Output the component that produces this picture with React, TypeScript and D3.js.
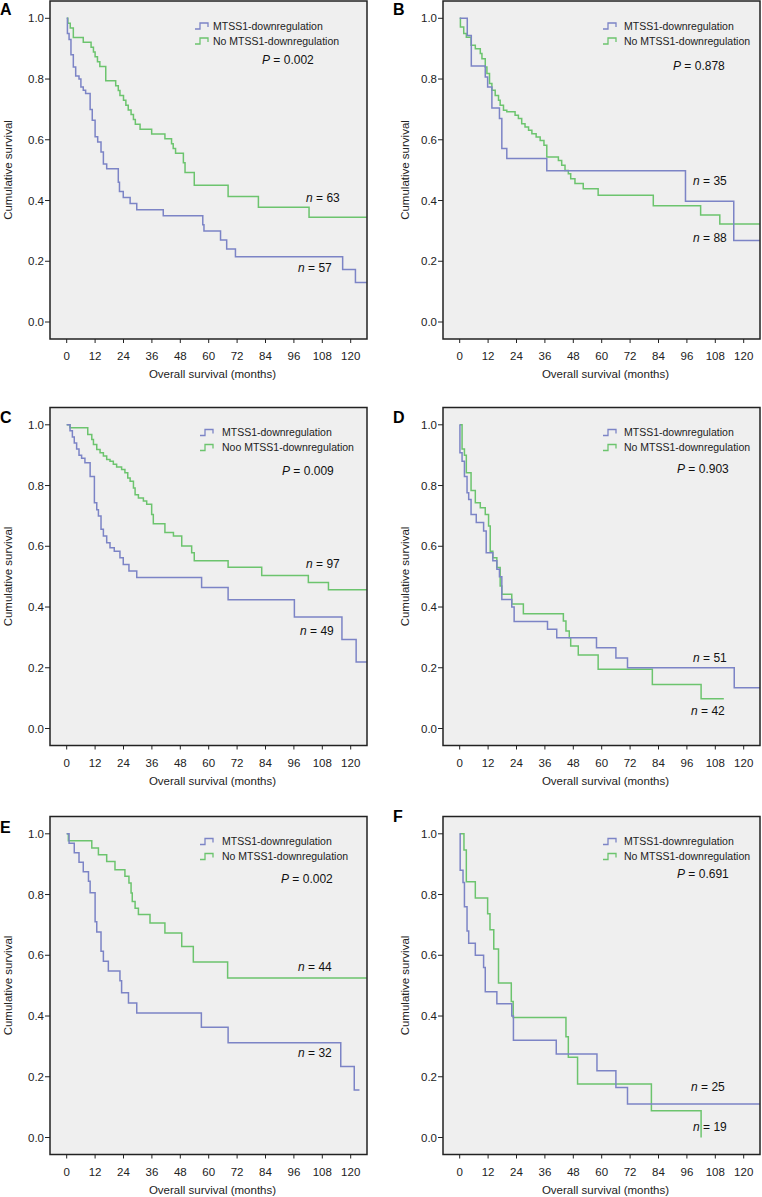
import * as d3 from 'd3';

// month / cumulative survival pairs
const aDownT = [0, 0.3, 1, 1.8, 2.8, 3.8, 5.2, 6, 7, 8, 9.9, 10.8, 12, 13.1, 14.5, 15.5, 16.9, 21.8, 22.3, 23.9, 26.8, 29.6, 40.8, 57.5, 58, 65, 67.6, 71.3, 116.6, 122, 126.8];
const aDownS = [1, 0.95, 0.93, 0.88, 0.84, 0.81, 0.8, 0.774, 0.763, 0.752, 0.7, 0.664, 0.61, 0.593, 0.56, 0.52, 0.505, 0.46, 0.43, 0.41, 0.39, 0.37, 0.35, 0.32, 0.3, 0.27, 0.24, 0.215, 0.173, 0.13, 0.13];
const aNoT = [0, 0.5, 1.5, 2.8, 7, 10.3, 11.3, 12, 13, 14, 16.5, 20.7, 21.8, 22.5, 24, 25, 26, 27.2, 28.2, 29, 31, 35.9, 41.5, 44.3, 45, 46, 49.3, 50, 53.9, 68.2, 81, 102.4, 126.8];
const aNoS = [1, 0.984, 0.968, 0.937, 0.921, 0.905, 0.889, 0.873, 0.857, 0.841, 0.794, 0.778, 0.762, 0.746, 0.73, 0.714, 0.698, 0.683, 0.667, 0.651, 0.635, 0.619, 0.603, 0.587, 0.571, 0.556, 0.524, 0.492, 0.45, 0.413, 0.378, 0.345, 0.345];

const bDownT = [0, 3.2, 4.9, 10.8, 11.8, 13.6, 16.8, 17.8, 19.9, 36.8, 95.4, 115.8, 126.8];
const bDownS = [1, 0.943, 0.843, 0.807, 0.774, 0.705, 0.67, 0.571, 0.538, 0.498, 0.398, 0.268, 0.268];
const bNoT = [0, 0.3, 1.7, 2.8, 4.8, 6.6, 8.7, 9.4, 10.8, 11.5, 12.6, 13.6, 15, 16.4, 17.1, 18.5, 19.9, 23.4, 24.8, 26.2, 27.6, 29.1, 30.5, 32.3, 34, 35.6, 36.8, 41.7, 43.1, 44.5, 45.9, 46.9, 48.7, 52.2, 58.5, 81.8, 101.8, 109.9, 126.8];
const bNoS = [1, 0.971, 0.95, 0.938, 0.911, 0.9, 0.884, 0.867, 0.84, 0.818, 0.785, 0.763, 0.746, 0.73, 0.714, 0.697, 0.692, 0.681, 0.67, 0.653, 0.642, 0.631, 0.62, 0.609, 0.598, 0.582, 0.543, 0.532, 0.516, 0.499, 0.488, 0.472, 0.456, 0.439, 0.417, 0.383, 0.352, 0.323, 0.323];

const cDownT = [0, 1.4, 2.4, 3.2, 4.2, 5.2, 6.3, 7.7, 9.9, 11.7, 12.7, 13.4, 14.5, 15.5, 16.9, 18.3, 20.1, 22.5, 23.9, 26.3, 29.6, 57, 68.2, 96.2, 116.3, 122.3, 126.8];
const cDownS = [1, 0.98, 0.96, 0.94, 0.92, 0.9, 0.89, 0.875, 0.83, 0.743, 0.72, 0.7, 0.656, 0.634, 0.612, 0.595, 0.584, 0.562, 0.54, 0.519, 0.497, 0.464, 0.424, 0.367, 0.293, 0.219, 0.219];
const cNoT = [0, 1.4, 8.9, 10.6, 11.3, 12.7, 14.1, 15.5, 16.9, 18.3, 19.7, 21.1, 23.2, 24.6, 25.8, 26.8, 28.2, 28.9, 30.3, 32.4, 33.8, 35.9, 36.6, 41.5, 45.1, 48.6, 52.8, 53.9, 68.2, 82.4, 102.1, 110.6, 126.8];
const cNoS = [1, 0.99, 0.968, 0.952, 0.935, 0.919, 0.908, 0.897, 0.886, 0.88, 0.87, 0.861, 0.853, 0.842, 0.825, 0.814, 0.792, 0.77, 0.759, 0.749, 0.738, 0.705, 0.674, 0.645, 0.634, 0.601, 0.579, 0.552, 0.531, 0.504, 0.481, 0.457, 0.457];

const dDownT = [0, 0.1, 1, 2, 3.1, 3.8, 4.8, 7, 10.1, 11.2, 14, 15.7, 16.8, 17.8, 22, 23, 37.1, 41, 57.8, 66, 70.9, 116, 126.8];
const dDownS = [1, 0.908, 0.88, 0.83, 0.776, 0.754, 0.705, 0.678, 0.65, 0.579, 0.552, 0.524, 0.5, 0.425, 0.4, 0.352, 0.327, 0.299, 0.266, 0.232, 0.2, 0.134, 0.134];
const dNoT = [0, 1, 2, 2.8, 4.8, 6.6, 8.7, 10.8, 12.2, 12.9, 14, 15.7, 17.1, 17.8, 22, 26.9, 43.8, 44.9, 46.3, 46.9, 50.1, 58.5, 81.4, 102, 111.6];
const dNoS = [1, 0.92, 0.9, 0.842, 0.784, 0.743, 0.727, 0.705, 0.667, 0.584, 0.562, 0.53, 0.469, 0.442, 0.41, 0.378, 0.354, 0.321, 0.299, 0.272, 0.242, 0.195, 0.145, 0.098, 0.098];

const eDownT = [0, 1, 3.2, 5.2, 7, 9.2, 9.9, 12, 12.7, 14.5, 15.5, 17.6, 22.5, 23.2, 26.1, 29.6, 56.9, 68.2, 115.8, 121.5, 123.7];
const eDownS = [1, 0.969, 0.938, 0.906, 0.875, 0.844, 0.806, 0.71, 0.677, 0.613, 0.58, 0.548, 0.516, 0.477, 0.443, 0.41, 0.363, 0.312, 0.234, 0.156, 0.156];
const eNoT = [0, 0.7, 10.6, 13.4, 16.9, 20.4, 24.6, 26.3, 27.2, 27.7, 28.9, 30.3, 35.2, 41.5, 48.6, 53.5, 68, 126.8];
const eNoS = [1, 0.977, 0.953, 0.931, 0.909, 0.882, 0.86, 0.838, 0.805, 0.777, 0.755, 0.734, 0.706, 0.673, 0.629, 0.578, 0.525, 0.525];

const fDownT = [0, 0.2, 1.4, 2, 3.1, 3.8, 6.6, 10.1, 10.8, 15.7, 22, 22.7, 40.8, 58, 66, 70.9, 126.8];
const fDownS = [1, 0.88, 0.84, 0.76, 0.68, 0.64, 0.6, 0.56, 0.48, 0.44, 0.4, 0.32, 0.275, 0.22, 0.165, 0.11, 0.11];
const fNoT = [0, 1.8, 2.8, 6.6, 11.8, 12.8, 14.4, 16.4, 21.8, 22.6, 44.9, 45.9, 49.8, 81, 102];
const fNoS = [1, 0.947, 0.842, 0.789, 0.737, 0.684, 0.621, 0.509, 0.448, 0.395, 0.332, 0.264, 0.176, 0.088, 0];

const monthTicks = [0, 12, 24, 36, 48, 60, 72, 84, 96, 108, 120];
const survTicks = [0, 0.2, 0.4, 0.6, 0.8, 1.0];
const downName = 'MTSS1-downregulation';

const BLUE = '#7c84c6';
const GREEN = '#6cc46e';
const FONT = '"Liberation Sans", Arial, Helvetica, sans-serif';

const panels = [
  { id: 'A', ox: 0, oy: 0, labY: 15, yTitleX: 12, legSym: 195, legX: 213, pX: 262, pY: 64, p: '0.002',
    noName: 'No MTSS1-downregulation', down: [aDownT, aDownS], no: [aNoT, aNoS],
    nNo: ['63', 306, 202], nDown: ['57', 298, 272] },
  { id: 'B', ox: 393, oy: 0, labY: 15, yTitleX: 16, legSym: 210, legX: 231, pX: 280, pY: 70, p: '0.878',
    noName: 'No MTSS1-downregulation', down: [bDownT, bDownS], no: [bNoT, bNoS],
    nNo: ['88', 300, 242], nDown: ['35', 300, 185] },
  { id: 'C', ox: 0, oy: 406.5, labY: 16, yTitleX: 12, legSym: 200, legX: 222, pX: 282, pY: 68, p: '0.009',
    noName: 'Noo MTSS1-downregulation', down: [cDownT, cDownS], no: [cNoT, cNoS],
    nNo: ['97', 306, 161], nDown: ['49', 300, 228] },
  { id: 'D', ox: 393, oy: 406.5, labY: 16, yTitleX: 16, legSym: 210, legX: 231, pX: 284, pY: 66, p: '0.903',
    noName: 'No MTSS1-downregulation', down: [dDownT, dDownS], no: [dNoT, dNoS],
    nNo: ['42', 298, 308], nDown: ['51', 300, 255] },
  { id: 'E', ox: 0, oy: 815.5, labY: 17, yTitleX: 12, legSym: 200, legX: 222, pX: 281, pY: 67, p: '0.002',
    noName: 'No MTSS1-downregulation', down: [eDownT, eDownS], no: [eNoT, eNoS],
    nNo: ['44', 298, 155], nDown: ['32', 298, 241] },
  { id: 'F', ox: 393, oy: 815.5, labY: 6, yTitleX: 16, legSym: 210, legX: 231, pX: 284, pY: 62, p: '0.691',
    noName: 'No MTSS1-downregulation', down: [fDownT, fDownS], no: [fNoT, fNoS],
    nNo: ['19', 300, 315], nDown: ['25', 298, 275] },
];

// panel geometry (relative to panel origin)
const box = { left: 50, right: 367, top: 1, bottom: 339 };
const x = d3.scaleLinear().domain([0, 120]).range([66.7, 350.7]);
const y = d3.scaleLinear().domain([0, 1]).range([322, 18.3]);

const line = d3
  .line<[number, number]>()
  .x((d) => x(d[0]))
  .y((d) => y(d[1]))
  .curve(d3.curveStepAfter);

const toPath = (t: number[], s: number[]) => line(t.map((v, i) => [v, s[i]] as [number, number])) || '';

const Panel = ({ p }: { p: (typeof panels)[number] }) => {
  const clipId = `clip-${p.id}`;
  const legendSym = (sx: number, sy: number) => `M${sx},${sy + 3} h5 v-6 h8 v4`;
  return (
    <g transform={`translate(${p.ox},${p.oy})`} fontFamily={FONT}>
      <defs>
        <clipPath id={clipId}>
          <rect x={box.left} y={box.top} width={box.right - box.left} height={box.bottom - box.top} />
        </clipPath>
      </defs>
      <rect x={box.left} y={box.top} width={box.right - box.left} height={box.bottom - box.top} fill="#efefef" />

      <g clipPath={`url(#${clipId})`} fill="none" strokeWidth={1.5}>
        <path d={toPath(p.no[0], p.no[1])} stroke={GREEN} />
        <path d={toPath(p.down[0], p.down[1])} stroke={BLUE} />
      </g>

      <rect x={box.left} y={box.top} width={box.right - box.left} height={box.bottom - box.top}
        fill="none" stroke="#222" strokeWidth={1.5} />

      {/* y axis */}
      {survTicks.map((v) => (
        <g key={v}>
          <line x1={box.left - 5} x2={box.left} y1={y(v)} y2={y(v)} stroke="#222" strokeWidth={1} />
          <text x={44} y={y(v) + 4} textAnchor="end" fontSize={11.5} fill="#222">{v.toFixed(1)}</text>
        </g>
      ))}
      {/* x axis */}
      {monthTicks.map((v) => (
        <g key={v}>
          <line x1={x(v)} x2={x(v)} y1={box.bottom} y2={box.bottom + 4} stroke="#222" strokeWidth={1} />
          <text x={x(v)} y={360} textAnchor="middle" fontSize={11.5} fill="#222">{v}</text>
        </g>
      ))}
      <text x={(box.left + box.right) / 2 + 4} y={378} textAnchor="middle" fontSize={11.5} fill="#222">
        Overall survival (months)
      </text>
      <text transform={`translate(${p.yTitleX},${(box.top + box.bottom) / 2}) rotate(-90)`} textAnchor="middle"
        fontSize={11.5} fill="#222">
        Cumulative survival
      </text>

      {/* legend */}
      <path d={legendSym(p.legSym, 26)} fill="none" stroke={BLUE} strokeWidth={1.3} />
      <path d={legendSym(p.legSym, 41)} fill="none" stroke={GREEN} strokeWidth={1.3} />
      <text x={p.legX} y={29.5} fontSize={10.5} fill="#222">{downName}</text>
      <text x={p.legX} y={44.5} fontSize={10.5} fill="#222">{p.noName}</text>

      <text x={p.pX} y={p.pY} fontSize={12} fill="#111">
        <tspan fontStyle="italic">P</tspan> = {p.p}
      </text>
      <text x={p.nNo[1] as number} y={p.nNo[2] as number} fontSize={12} fill="#111">
        <tspan fontStyle="italic">n</tspan> = {p.nNo[0]}
      </text>
      <text x={p.nDown[1] as number} y={p.nDown[2] as number} fontSize={12} fill="#111">
        <tspan fontStyle="italic">n</tspan> = {p.nDown[0]}
      </text>

      <text x={0} y={p.labY} fontSize={16} fontWeight="bold" fill="#000">{p.id}</text>
    </g>
  );
};

export default function App() {
  return (
    <svg width={762} height={1197} style={{ position: 'absolute', left: 0, top: 0, background: '#fff' }}>
      {panels.map((p) => (
        <Panel key={p.id} p={p} />
      ))}
    </svg>
  );
}
